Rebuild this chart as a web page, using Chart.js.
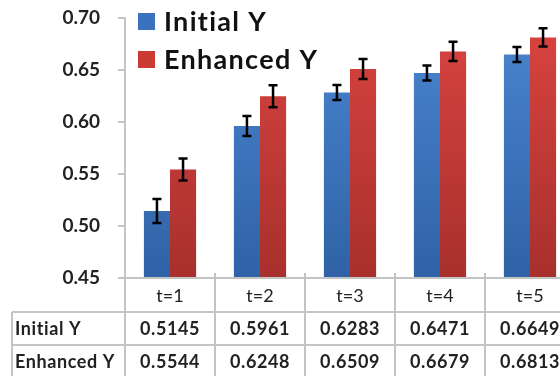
<!DOCTYPE html>
<html lang="en">
<head>
    <meta charset="UTF-8">
    <title>Initial vs Enhanced Y</title>
    <script src="https://cdn.jsdelivr.net/npm/chart.js"></script>
    <style>
        body { margin: 0; background: #fff; overflow: hidden; }
        #wrap { width: 580px; height: 376px; }
    </style>
</head>
<body>
    <div id="wrap"><canvas id="barChart" width="580" height="376"></canvas></div>
    <script>
        // values
        const labels = ['t=1', 't=2', 't=3', 't=4', 't=5'];
        const initialY = [0.5145, 0.5961, 0.6283, 0.6471, 0.6649];
        const enhancedY = [0.5544, 0.6248, 0.6509, 0.6679, 0.6813];
        const initialErr = [0.0115, 0.0096, 0.0072, 0.0072, 0.0072];
        const enhancedErr = [0.0106, 0.0106, 0.0096, 0.0092, 0.0088];
        const yTicks = [0.45, 0.50, 0.55, 0.60, 0.65, 0.70];

        const FONT = 'Lato';
        const TEXT = '#222';
        const LINE = '#c4c4c4';

        function grad(ctx, top, bottom) {
            const area = ctx.chart.chartArea;
            if (!area) return top;
            const g = ctx.chart.ctx.createLinearGradient(0, area.top, 0, area.bottom);
            g.addColorStop(0, top);
            g.addColorStop(1, bottom);
            return g;
        }

        const errorBars = {
            id: 'errorBars',
            afterDatasetsDraw(chart) {
                const c = chart.ctx;
                const y = chart.scales.y;
                const errs = [initialErr, enhancedErr];
                c.save();
                c.strokeStyle = '#000';
                c.lineWidth = 2.5;
                chart.data.datasets.forEach((ds, di) => {
                    chart.getDatasetMeta(di).data.forEach((bar, i) => {
                        const v = ds.data[i], e = errs[di][i];
                        const y1 = y.getPixelForValue(v + e), y2 = y.getPixelForValue(v - e);
                        c.beginPath();
                        c.moveTo(bar.x, y1); c.lineTo(bar.x, y2);
                        c.moveTo(bar.x - 4.5, y1); c.lineTo(bar.x + 4.5, y1);
                        c.moveTo(bar.x - 4.5, y2); c.lineTo(bar.x + 4.5, y2);
                        c.stroke();
                    });
                });
                c.restore();
            }
        };

        // data table under the plot + legend in the top-left corner
        const tablePlugin = {
            id: 'tablePlugin',
            afterDraw(chart) {
                const c = chart.ctx;
                const a = chart.chartArea;
                const n = labels.length;
                const cw = (a.right - a.left) / n;
                const headH = 34, rowH = 33;
                const rows = [['Initial Y', initialY], ['Enhanced Y', enhancedY]];
                const tableLeft = 12;
                const bottom = a.bottom + headH + rowH * rows.length + 5;

                c.save();
                c.strokeStyle = LINE;
                c.lineWidth = 2;
                c.beginPath();
                c.moveTo(a.left, a.bottom); c.lineTo(a.right, a.bottom);
                for (let r = 0; r < rows.length; r++) {
                    const yy = a.bottom + headH + r * rowH;
                    c.moveTo(tableLeft, yy); c.lineTo(a.right, yy);
                }
                for (let i = 0; i <= n; i++) {
                    const xx = a.left + i * cw;
                    c.moveTo(xx, a.bottom - (i > 0 ? 5 : 0)); c.lineTo(xx, bottom);
                }
                c.moveTo(tableLeft, a.bottom + headH); c.lineTo(tableLeft, bottom);
                c.stroke();

                c.fillStyle = TEXT;
                c.textBaseline = 'middle';
                c.textAlign = 'center';
                c.font = '18px ' + FONT;
                labels.forEach((l, i) => c.fillText(l, a.left + (i + 0.5) * cw, a.bottom + headH / 2 + 1));
                c.font = 'bold 18px ' + FONT;
                c.letterSpacing = '0.6px';
                rows.forEach((row, r) => {
                    const yy = a.bottom + headH + r * rowH + rowH / 2 + 1;
                    c.textAlign = 'left';
                    c.fillText(row[0], tableLeft + 3, yy);
                    c.textAlign = 'center';
                    row[1].forEach((v, i) => c.fillText(v.toFixed(4), a.left + (i + 0.5) * cw, yy));
                });

                // legend
                c.font = 'bold 27px ' + FONT;
                c.letterSpacing = '1.3px';
                c.textAlign = 'left';
                chart.data.datasets.forEach((ds, di) => {
                    const ly = 21 + di * 38;
                    c.fillStyle = ds.legendColor;
                    c.fillRect(138, ly - 8, 17, 17);
                    c.fillStyle = '#111';
                    c.fillText(ds.label, 164, ly + 1);
                });
                c.restore();
            }
        };

        new Chart(document.getElementById('barChart'), {
            type: 'bar',
            data: {
                labels: labels,
                datasets: [{
                    label: 'Initial Y',
                    data: initialY,
                    legendColor: '#3a72c0',
                    backgroundColor: ctx => grad(ctx, '#4a86d0', '#2f62a6')
                }, {
                    label: 'Enhanced Y',
                    data: enhancedY,
                    legendColor: '#cc3a36',
                    backgroundColor: ctx => grad(ctx, '#d94440', '#a8302c')
                }]
            },
            options: {
                responsive: false,
                animation: false,
                layout: { padding: { left: 0, right: 5, top: 18, bottom: 98 } },
                datasets: { bar: { barPercentage: 1, categoryPercentage: 0.58 } },
                plugins: { legend: { display: false }, tooltip: { enabled: false } },
                scales: {
                    x: { display: false },
                    y: {
                        min: 0.45,
                        max: 0.70,
                        afterFit: s => { s.width = 125; s.paddingTop = 0; s.paddingBottom = 0; },
                        afterBuildTicks: s => { s.ticks = yTicks.map(v => ({ value: v })); },
                        grid: { drawOnChartArea: false, tickLength: 7, color: LINE, lineWidth: 2 },
                        border: { color: LINE, width: 2 },
                        ticks: {
                            padding: 18,
                            color: TEXT,
                            font: { family: FONT, size: 19, weight: 'bold' },
                            callback: v => v.toFixed(2)
                        }
                    }
                }
            },
            plugins: [errorBars, tablePlugin]
        });
    </script>
</body>
</html>
